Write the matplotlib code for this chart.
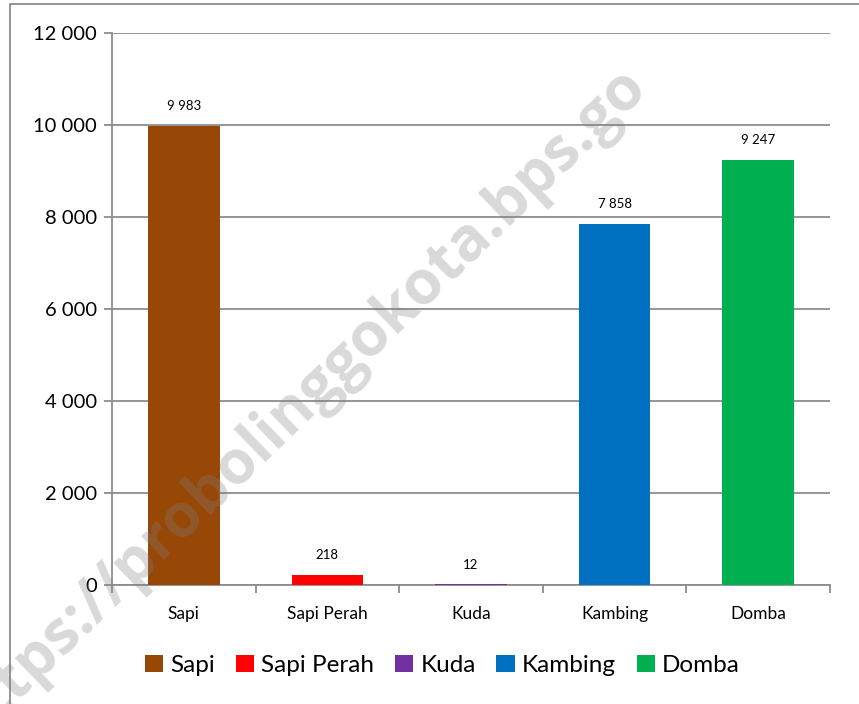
import matplotlib
matplotlib.use("Agg")
import matplotlib.pyplot as plt
from matplotlib.patches import Patch, Rectangle

plt.rcParams['font.family'] = ['Lato', 'DejaVu Sans']

categories = ["Sapi", "Sapi Perah", "Kuda", "Kambing", "Domba"]
values = [9983, 218, 12, 7858, 9247]
colors = ["#974706", "#ff0000", "#7030a0", "#0070c0", "#00b050"]
y_ticks = [0, 2000, 4000, 6000, 8000, 10000, 12000]


def fmt(v):
    return f"{v:,}".replace(",", " ")


fig = plt.figure(figsize=(8.59, 7.04), dpi=100)
ax = fig.add_axes([0.1304, 0.169, 0.8358, 0.784])

x = list(range(len(categories)))
bars = ax.bar(x, values, width=0.5, color=colors, zorder=3)

for b, v in zip(bars, values):
    ax.annotate(fmt(v), (b.get_x() + b.get_width() / 2, v), xytext=(0, 10),
                textcoords="offset points", ha="center", va="bottom", fontsize=9.5)

ax.set_xlim(-0.5, len(categories) - 0.5)
ax.set_ylim(0, 12000)
ax.set_yticks(y_ticks)
ax.set_yticklabels([fmt(t) for t in y_ticks], fontsize=14.5)
ax.yaxis.grid(True, color="#8c8c8c", linewidth=1.3, zorder=0)

ax.set_xticks(x)
ax.set_xticklabels(categories, fontsize=12.5)
ax.tick_params(axis="x", length=0, pad=15)
ax.set_xticks([i - 0.5 for i in range(len(categories) + 1)], minor=True)
ax.tick_params(axis="x", which="minor", length=6, color="#8c8c8c", width=1.3)
ax.tick_params(axis="y", length=6, color="#8c8c8c", width=1.3, pad=5)

for s in ["top", "right"]:
    ax.spines[s].set_visible(False)
for s in ["left", "bottom"]:
    ax.spines[s].set_color("#8c8c8c")
    ax.spines[s].set_linewidth(1.3)

handles = [Patch(facecolor=c, label=n) for c, n in zip(colors, categories)]
fig.legend(handles=handles, loc="center", bbox_to_anchor=(0.515, 0.055), ncol=5,
           frameon=False, fontsize=17.5, handlelength=0.75, handleheight=0.75,
           handletextpad=0.3, columnspacing=0.85)

# outer frame
fig.patches.append(Rectangle((10 / 859, -0.1), 2, 1.1 - 4 / 704, transform=fig.transFigure,
                             fill=False, edgecolor="#8c8c8c", linewidth=1.3))

# watermark
fig.text(648 / 859, 1 - 88 / 704, "https://probolinggokota.bps.go", rotation=44,
         rotation_mode="anchor", ha="right", va="baseline", fontsize=44,
         family="Open Sans", fontweight="bold", color="gray", alpha=0.3, zorder=10)

fig.savefig("out.png", dpi=100)
